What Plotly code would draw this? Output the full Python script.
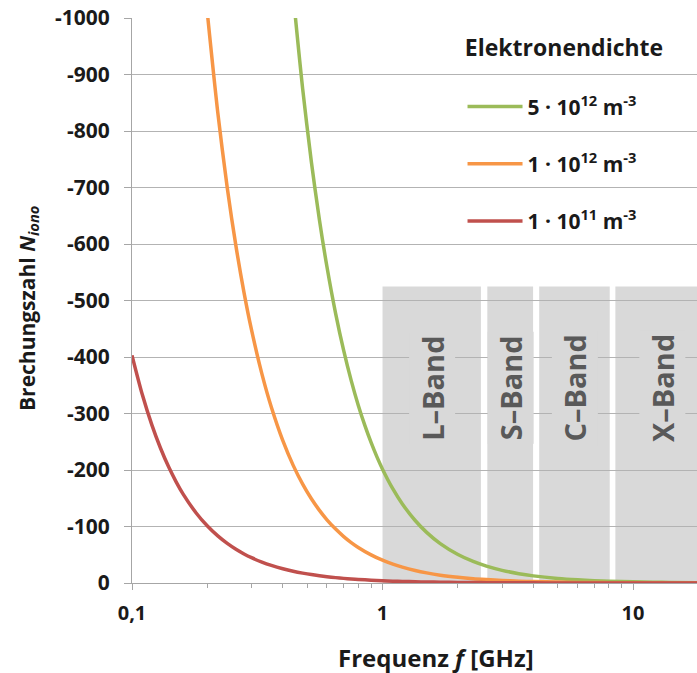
import math
import plotly.graph_objects as go

# Frequencies (GHz) and refractivity values
freq_green = [0.44, 0.48, 0.52, 0.56, 0.6, 0.65, 0.7, 0.75, 0.8, 0.85, 0.9, 0.95, 1.0, 1.1, 1.2, 1.35, 1.5, 1.7, 2.0, 2.3, 2.6, 3.0, 3.5, 4.0, 5.0, 6.0, 7.0, 8.0, 10.0, 12.0, 14.0, 18.0]
n_green = [-1040.8, -874.6, -745.2, -642.5, -559.7, -476.9, -411.2, -358.2, -314.8, -278.9, -248.8, -223.3, -201.5, -166.5, -139.9, -110.6, -89.6, -69.7, -50.4, -38.1, -29.8, -22.4, -16.4, -12.6, -8.1, -5.6, -4.1, -3.1, -2.0, -1.4, -1.0, -0.6]

freq_orange = [0.2, 0.22, 0.24, 0.26, 0.28, 0.3, 0.33, 0.36, 0.4, 0.44, 0.48, 0.52, 0.56, 0.6, 0.65, 0.7, 0.75, 0.8, 0.9, 1.0, 1.1, 1.2, 1.35, 1.5, 1.7, 2.0, 2.3, 2.6, 3.0, 3.5, 4.0, 5.0, 6.0, 7.0, 8.0, 10.0, 12.0, 14.0, 18.0]
n_orange = [-1007.5, -832.6, -699.7, -596.2, -514.0, -447.8, -370.1, -311.0, -251.9, -208.2, -174.9, -149.0, -128.5, -111.9, -95.4, -82.2, -71.6, -63.0, -49.8, -40.3, -33.3, -28.0, -22.1, -17.9, -13.9, -10.1, -7.6, -6.0, -4.5, -3.3, -2.5, -1.6, -1.1, -0.8, -0.6, -0.4, -0.28, -0.21, -0.12]

freq_red = [0.1, 0.11, 0.12, 0.13, 0.14, 0.15, 0.16, 0.18, 0.2, 0.22, 0.24, 0.26, 0.28, 0.3, 0.33, 0.36, 0.4, 0.44, 0.48, 0.52, 0.56, 0.6, 0.65, 0.7, 0.75, 0.8, 0.9, 1.0, 1.1, 1.2, 1.35, 1.5, 1.7, 2.0, 2.3, 2.6, 3.0, 3.5, 4.0, 5.0, 6.0, 7.0, 8.0, 10.0, 12.0, 14.0, 18.0]
n_red = [-403.0, -333.1, -279.9, -238.5, -205.6, -179.1, -157.4, -124.4, -100.8, -83.3, -70.0, -59.6, -51.4, -44.8, -37.0, -31.1, -25.2, -20.8, -17.5, -14.9, -12.9, -11.2, -9.5, -8.2, -7.2, -6.3, -5.0, -4.0, -3.3, -2.8, -2.2, -1.8, -1.4, -1.0, -0.76, -0.6, -0.45, -0.33, -0.25, -0.16, -0.11, -0.08, -0.06, -0.04, -0.03, -0.02, -0.01]

series_names = ["5 · 10<sup>12</sup> m<sup>-3</sup>", "1 · 10<sup>12</sup> m<sup>-3</sup>", "1 · 10<sup>11</sup> m<sup>-3</sup>"]
series_colors = ["#9bbb59", "#f79646", "#c0504d"]

# y tick labels (hyphen minus as in the original)
y_tickvals = [0, -100, -200, -300, -400, -500, -600, -700, -800, -900, -1000]
y_ticktext = ["0", "-100", "-200", "-300", "-400", "-500", "-600", "-700", "-800", "-900", "-1000"]

# Frequency bands (GHz) as drawn
band_names = ["L–Band", "S–Band", "C–Band", "X–Band"]
band_lo = [1.0, 2.62, 4.22, 8.5]
band_hi = [2.47, 3.99, 8.07, 20.0]
band_top = -525
band_label_y = -345

FONT = "Open Sans"
TXT = "#1a1a1a"
AX = "#a6a6a6"

fig = go.Figure()
for fx, ny, name, col in zip([freq_green, freq_orange, freq_red], [n_green, n_orange, n_red], series_names, series_colors):
    fig.add_trace(go.Scatter(x=fx, y=ny, mode="lines", name=name, legendgroup=name,
                             line=dict(color=col, width=3.5, shape="spline", smoothing=0.8)))

for nm, lo, hi in zip(band_names, band_lo, band_hi):
    fig.add_shape(type="rect", xref="x", yref="y", x0=lo, x1=hi, y0=0, y1=band_top,
                  fillcolor="#d9d9d9", line=dict(width=0), layer="below")
    fig.add_annotation(x=math.log10(math.sqrt(lo * hi)), y=band_label_y, xref="x", yref="y",
                       text="<b>" + nm + "</b>", textangle=-90, showarrow=False,
                       font=dict(family=FONT, size=29, color="#595959"),
                       bgcolor="#d9d9d9", borderpad=3)

fig.add_annotation(x=-0.184, y=0.485, xref="paper", yref="paper", xanchor="center", yanchor="middle",
                   text="<b>Brechungszahl <i>N<sub>iono</sub></i></b>", textangle=-90,
                   showarrow=False, font=dict(family=FONT, size=21, color=TXT))
fig.add_annotation(x=0.538, y=-0.131, xref="paper", yref="paper", xanchor="center", yanchor="middle",
                   text="<b>Frequenz <i>f</i> [GHz]</b>", showarrow=False,
                   font=dict(family=FONT, size=24, color=TXT))

fig.update_layout(
    width=697, height=673,
    margin=dict(l=132, r=0, t=18, b=90),
    plot_bgcolor="white", paper_bgcolor="white",
    separators=",.",
    font=dict(family=FONT, color=TXT),
    legend=dict(x=0.585, y=0.985, xanchor="left", yanchor="top",
                bgcolor="rgba(0,0,0,0)", tracegroupgap=27,
                title=dict(text="<b>Elektronendichte</b><br> ", side="top center",
                           font=dict(family=FONT, size=23, color=TXT)),
                font=dict(family=FONT, size=21, color=TXT, weight="bold"),
                itemwidth=55),
    xaxis=dict(type="log", range=[-1, math.log10(18)], dtick=1, automargin=False,
               showgrid=False, showline=True, linecolor=AX, linewidth=1,
               ticks="outside", ticklen=6, tickcolor=AX,
               tickfont=dict(family=FONT, size=20, color=TXT, weight="bold"),
               ticklabelstandoff=6,
               minor=dict(ticks="outside", ticklen=4, tickcolor=AX, dtick="D1", showgrid=False),
               zeroline=False),
    yaxis=dict(range=[0, -1000], tickvals=y_tickvals, ticktext=y_ticktext, automargin=False,
               showgrid=True, gridcolor="#b3b3b3", gridwidth=1,
               showline=True, linecolor=AX, linewidth=1,
               ticks="outside", ticklen=7, tickcolor=AX,
               tickfont=dict(family=FONT, size=21, color=TXT, weight="bold"),
               ticklabelstandoff=10, zeroline=False),
)

# remove the default 8 px page margin so the figure sits at the window's top-left corner
fig.write_html("out.html", config={"displayModeBar": False},
               post_script="document.body.style.margin='0';")
